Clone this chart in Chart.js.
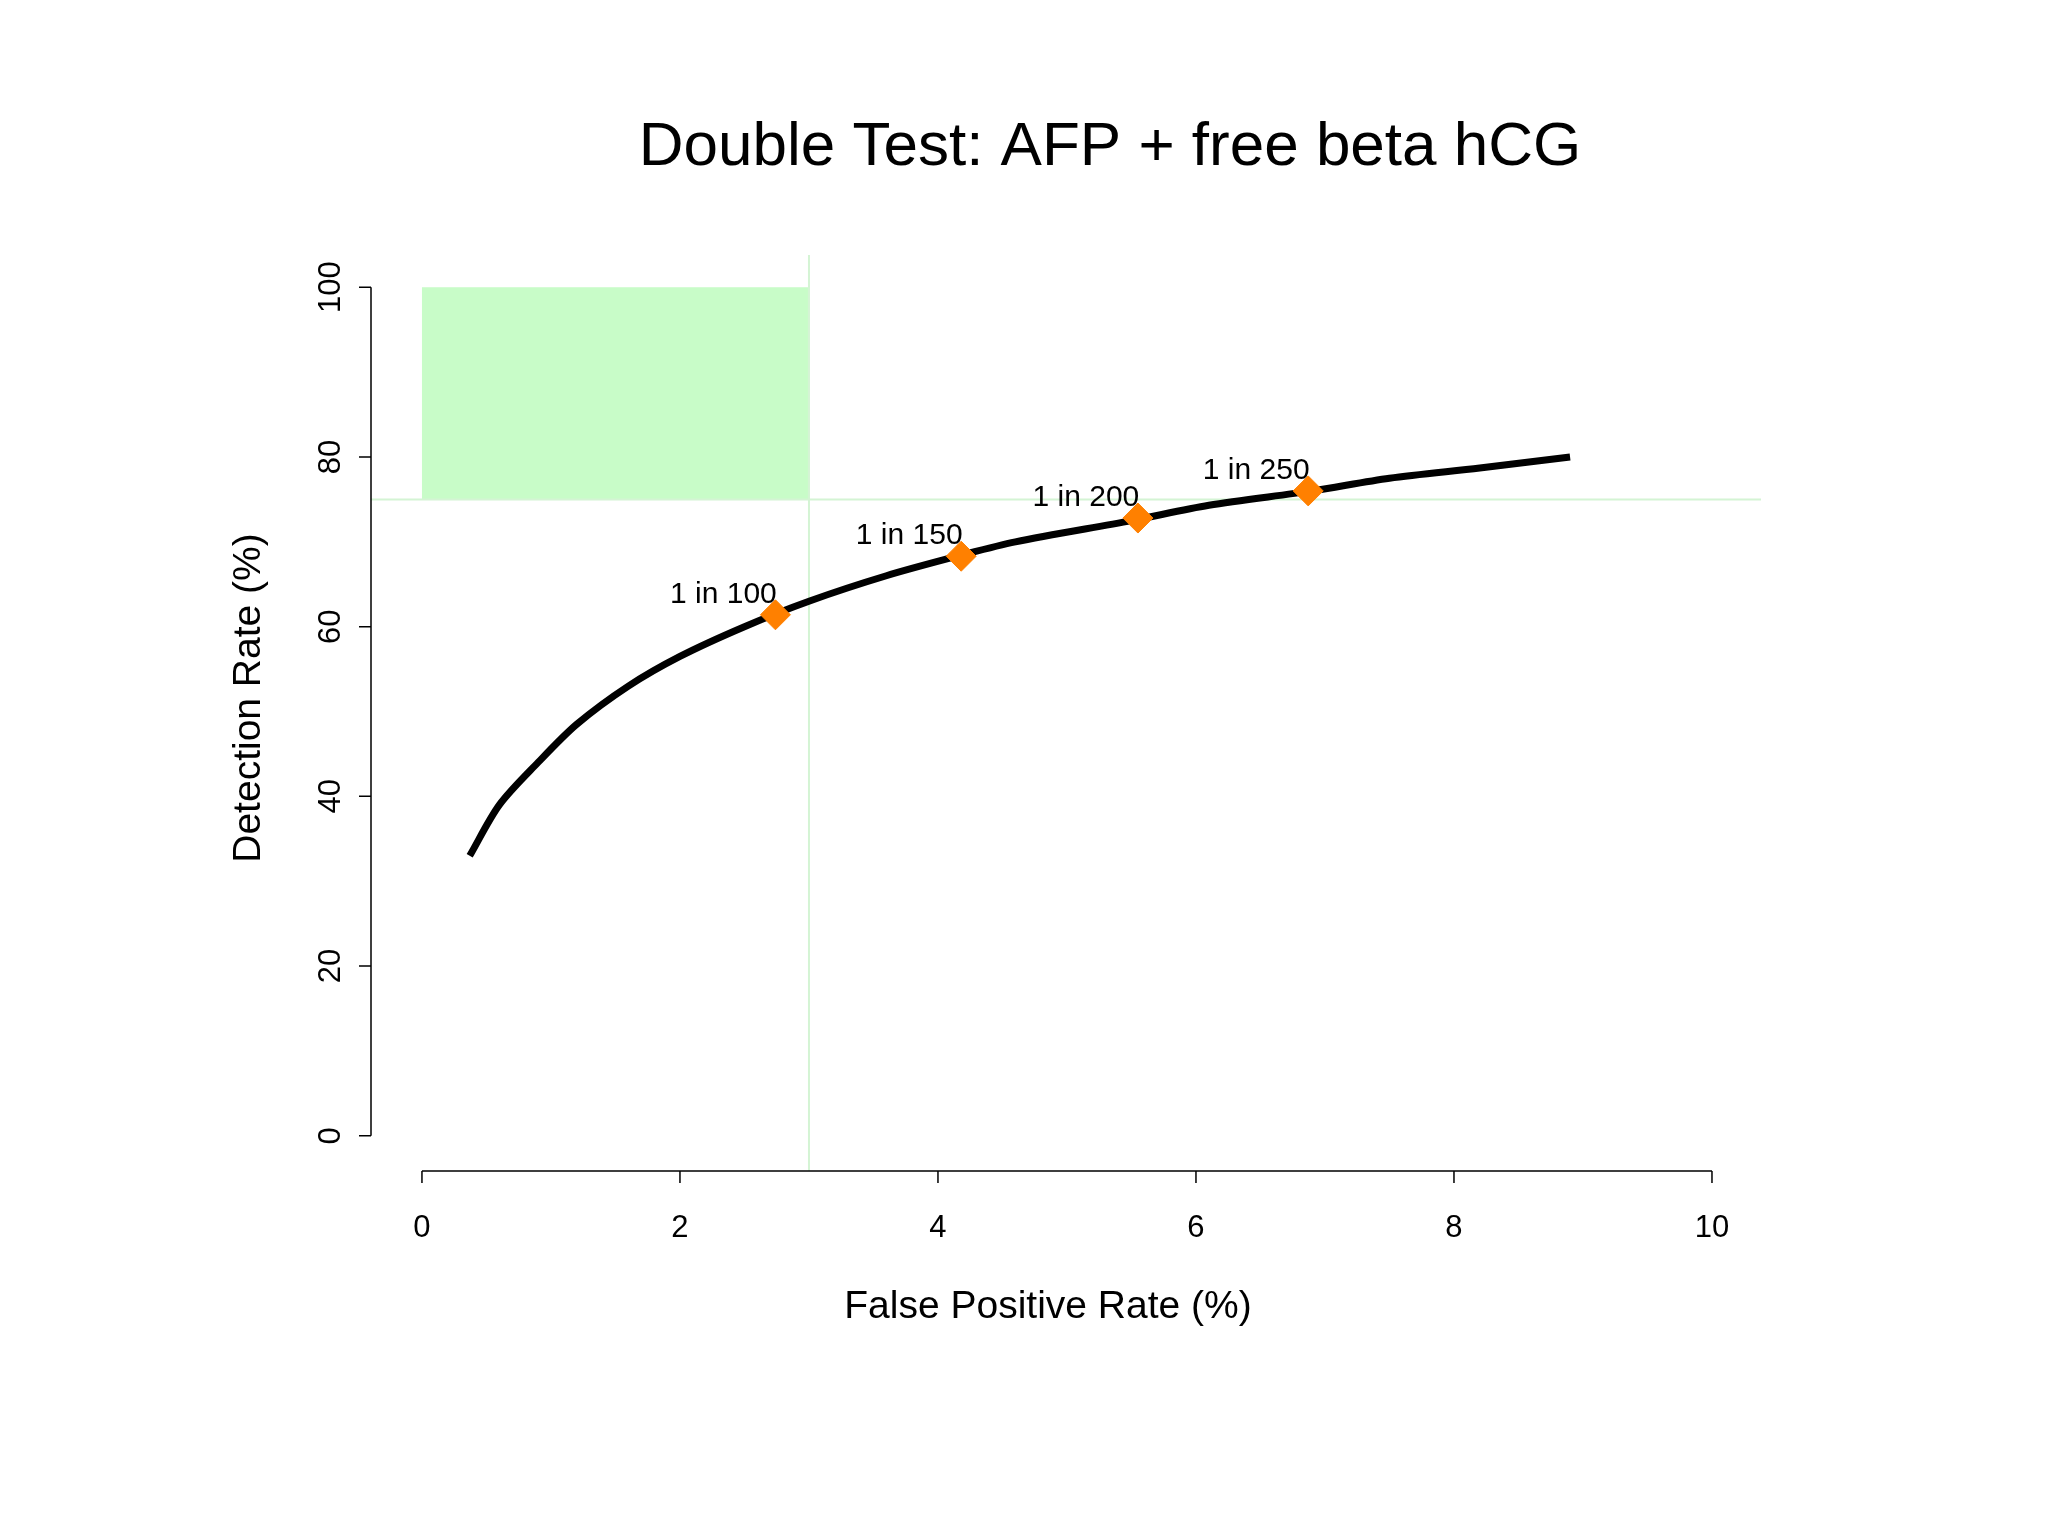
<!DOCTYPE html>
<html>
<head>
<meta charset="utf-8">
<script src="https://cdn.jsdelivr.net/npm/chart.js@4/dist/chart.umd.min.js"></script>
<style>
  html, body { margin: 0; padding: 0; background: #fff; }
  #wrap { width: 2048px; height: 1536px; }
</style>
</head>
<body>
<div id="wrap"><canvas id="roc"></canvas></div>
<script>
// curve
const curveX = [0.37, 0.6, 0.9, 1.2, 1.6, 2.0, 2.5, 3.0, 3.6, 4.2, 4.6, 5.5, 6.1, 6.9, 7.5, 8.2, 8.9]
const curveY = [33, 39, 44, 48.5, 53, 56.5, 60, 63, 66, 68.5, 70, 72.5, 74.3, 76, 77.5, 78.7, 80]

const cutX = [2.74, 4.18, 5.55, 6.87]
const cutY = [61.4, 68.3, 72.8, 76.0]
const cutLabels = ['1 in 100', '1 in 150', '1 in 200', '1 in 250']

const xTicks = [0, 2, 4, 6, 8, 10]
const yTicks = [0, 20, 40, 60, 80, 100]

const FONT = '"Liberation Sans", Arial, sans-serif'

const rPlot = {
    id: 'rPlot',
    beforeDatasetsDraw(chart) {
        const { ctx, scales: { x, y }, chartArea: a } = chart
        ctx.save()
        // target box
        ctx.fillStyle = '#c8fcc8'
        ctx.fillRect(x.getPixelForValue(0), y.getPixelForValue(100),
            x.getPixelForValue(3) - x.getPixelForValue(0), y.getPixelForValue(75) - y.getPixelForValue(100))
        ctx.strokeStyle = '#d4f4d4'
        ctx.lineWidth = 2
        ctx.beginPath()
        ctx.moveTo(x.getPixelForValue(3), a.top)
        ctx.lineTo(x.getPixelForValue(3), a.bottom)
        ctx.moveTo(a.left, y.getPixelForValue(75))
        ctx.lineTo(a.right, y.getPixelForValue(75))
        ctx.stroke()
        ctx.restore()
    },
    afterDraw(chart) {
        const { ctx, scales: { x, y }, chartArea: a } = chart
        ctx.save()
        ctx.strokeStyle = '#000'
        ctx.fillStyle = '#000'
        ctx.lineWidth = 1.5
        // x axis
        ctx.beginPath()
        ctx.moveTo(x.getPixelForValue(0), a.bottom)
        ctx.lineTo(x.getPixelForValue(10), a.bottom)
        xTicks.forEach(v => {
            ctx.moveTo(x.getPixelForValue(v), a.bottom)
            ctx.lineTo(x.getPixelForValue(v), a.bottom + 12)
        })
        // y axis
        ctx.moveTo(a.left, y.getPixelForValue(0))
        ctx.lineTo(a.left, y.getPixelForValue(100))
        yTicks.forEach(v => {
            ctx.moveTo(a.left, y.getPixelForValue(v))
            ctx.lineTo(a.left - 12, y.getPixelForValue(v))
        })
        ctx.stroke()

        ctx.font = '31px ' + FONT
        ctx.textAlign = 'center'
        ctx.textBaseline = 'top'
        xTicks.forEach(v => ctx.fillText(String(v), x.getPixelForValue(v), a.bottom + 42))
        yTicks.forEach(v => {
            ctx.save()
            ctx.translate(a.left - 40, y.getPixelForValue(v))
            ctx.rotate(-Math.PI / 2)
            ctx.textBaseline = 'middle'
            ctx.fillText(String(v), 0, 0)
            ctx.restore()
        })

        // point labels
        ctx.font = '30px ' + FONT
        ctx.textBaseline = 'alphabetic'
        cutX.forEach((v, i) => {
            ctx.fillText(cutLabels[i], x.getPixelForValue(v) - 52, y.getPixelForValue(cutY[i]) - 12)
        })

        // titles
        ctx.font = '39px ' + FONT
        ctx.textBaseline = 'middle'
        ctx.fillText('False Positive Rate (%)', 1048, 1307)
        ctx.save()
        ctx.translate(249, 698)
        ctx.rotate(-Math.PI / 2)
        ctx.fillText('Detection Rate (%)', 0, 0)
        ctx.restore()

        ctx.font = '62px ' + FONT
        ctx.fillText('Double Test: AFP + free beta hCG', 1110, 148)
        ctx.restore()
    }
}

new Chart(document.getElementById('roc'), {
    type: 'scatter',
    data: {
        datasets: [{
            type: 'line',
            data: curveX.map((v, i) => ({ x: v, y: curveY[i] })),
            borderColor: '#000',
            borderWidth: 7,
            pointRadius: 0,
            tension: 0.3,
            order: 2
        }, {
            data: cutX.map((v, i) => ({ x: v, y: cutY[i] })),
            pointStyle: 'rectRot',
            pointRadius: 15,
            backgroundColor: '#ff8000',
            borderColor: '#ff8000',
            order: 1
        }]
    },
    options: {
        responsive: true,
        maintainAspectRatio: false,
        animation: false,
        layout: { padding: { left: 371, right: 287, top: 255, bottom: 365 } },
        scales: {
            x: { type: 'linear', display: false, min: -0.395, max: 10.38 },
            y: { type: 'linear', display: false, min: -4.15, max: 103.8 }
        },
        plugins: { legend: { display: false }, tooltip: { enabled: false } }
    },
    plugins: [rPlot]
})
</script>
</body>
</html>
